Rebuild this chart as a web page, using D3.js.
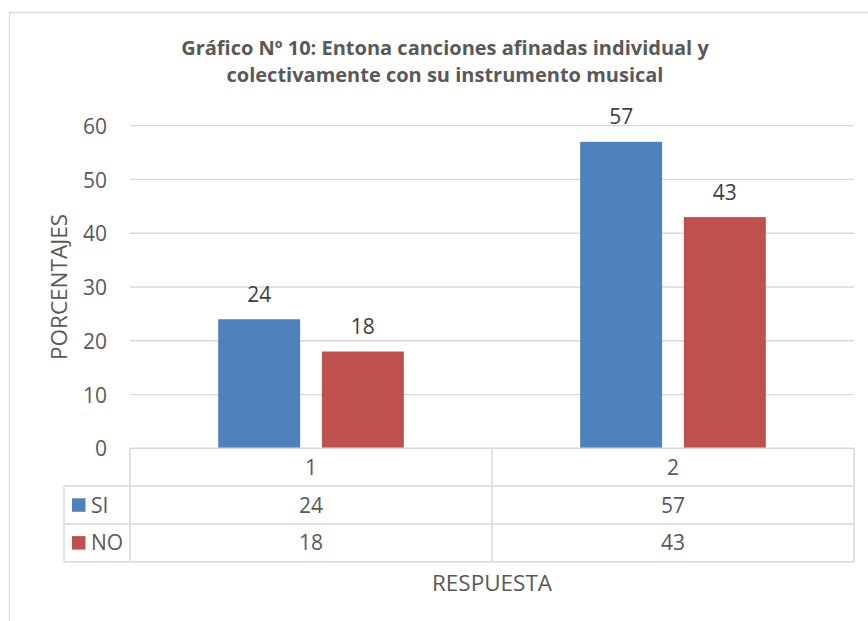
<!DOCTYPE html>
<html><head><meta charset="utf-8">
<script src="https://cdn.jsdelivr.net/npm/d3@7"></script>
<style>body{margin:0;background:#fff}svg{display:block}</style>
</head><body>
<script>
const categories = ["1", "2"];
const seriesNames = ["SI", "NO"];
const siValues = [24, 57];
const noValues = [18, 43];
const yTicks = [0, 10, 20, 30, 40, 50, 60];
const titleLines = ["Gráfico Nº 10: Entona canciones afinadas individual y", "colectivamente con su instrumento musical"];
const yTitle = "PORCENTAJES";
const xTitle = "RESPUESTA";

(function () {
const colors = {SI: "#4F81BD", NO: "#C0504D"};
const values = {SI: siValues, NO: noValues};
const W = 868, H = 621;
const font = "'Open Sans', Lato, sans-serif";
const grid = "#d9d9d9";

const svg = d3.select("body").append("svg").attr("width", W).attr("height", H);

// frame
svg.append("path").attr("d", "M9.5,621 V12.5 H868").attr("fill", "none").attr("stroke", grid).attr("stroke-width", 1.3);

const pLeft = 130, pRight = 854, pTop = 125.7, pBottom = 448.3;
const x = d3.scaleBand().domain(categories).range([pLeft, pRight]).padding(0);
const xs = d3.scaleBand().domain(seriesNames).range([0, x.bandwidth()]).paddingInner(0.21).paddingOuter(0.85);
const y = d3.scaleLinear().domain([0, 60]).range([pBottom, pTop]);

// title
svg.append("g").selectAll("text").data(titleLines).join("text")
  .attr("x", 445).attr("y", (d, i) => 55 + i * 27)
  .attr("text-anchor", "middle").attr("font-family", font).attr("font-weight", "bold")
  .attr("font-size", 20).attr("fill", "#595959").text(d => d);

// gridlines
svg.append("g").selectAll("line").data(yTicks.filter(t => t > 0)).join("line")
  .attr("x1", pLeft).attr("x2", pRight).attr("y1", d => y(d)).attr("y2", d => y(d))
  .attr("stroke", grid).attr("stroke-width", 1.3);

// y axis labels
const yAxis = d3.axisLeft(y).tickValues(yTicks).tickSize(0).tickPadding(0);
const ya = svg.append("g").attr("transform", `translate(${pLeft - 23},0)`).call(yAxis);
ya.select(".domain").remove();
ya.selectAll("text").attr("font-family", font).attr("font-size", 21).attr("fill", "#595959").attr("dy", "0.36em");

// y title
svg.append("text").attr("transform", `translate(67,287) rotate(-90)`)
  .attr("text-anchor", "middle").attr("font-family", font).attr("font-size", 22.5)
  .attr("fill", "#595959").text(yTitle);

// bars
const gBars = svg.append("g");
seriesNames.forEach(s => {
  gBars.selectAll(".b" + s).data(categories).join("rect")
    .attr("x", d => x(d) + xs(s)).attr("width", xs.bandwidth())
    .attr("y", (d, i) => y(values[s][i])).attr("height", (d, i) => y(0) - y(values[s][i]))
    .attr("fill", colors[s]);
  gBars.selectAll(".l" + s).data(categories).join("text")
    .attr("x", d => x(d) + xs(s) + xs.bandwidth() / 2)
    .attr("y", (d, i) => y(values[s][i]) - 17.5)
    .attr("text-anchor", "middle").attr("font-family", font).attr("font-size", 21)
    .attr("fill", "#404040").text((d, i) => values[s][i]);
});

// data table
const rowH = 37.8;
const r0 = pBottom, r1 = r0 + rowH, r2 = r1 + rowH, r3 = r2 + rowH;
const legLeft = 64;
const tg = svg.append("g").attr("stroke", grid).attr("stroke-width", 1.5);
tg.append("line").attr("x1", pLeft).attr("x2", pRight).attr("y1", r0).attr("y2", r0);
[r1, r2, r3].forEach(r => tg.append("line").attr("x1", legLeft).attr("x2", pRight).attr("y1", r).attr("y2", r));
[pLeft, ...categories.slice(1).map(c => x(c)), pRight].forEach(v => tg.append("line").attr("x1", v).attr("x2", v).attr("y1", r0).attr("y2", r3));
tg.append("line").attr("x1", legLeft).attr("x2", legLeft).attr("y1", r1).attr("y2", r3);

const ttext = (xx, yy, t, anchor) => svg.append("text").attr("x", xx).attr("y", yy)
  .attr("text-anchor", anchor || "middle").attr("dy", "0.36em")
  .attr("font-family", font).attr("font-size", 21).attr("fill", "#595959").text(t);

categories.forEach(c => ttext(x(c) + x.bandwidth() / 2, (r0 + r1) / 2, c));
seriesNames.forEach((s, si) => {
  const cy = [r1, r2][si] + rowH / 2;
  svg.append("rect").attr("x", 72).attr("y", cy - 6.7).attr("width", 13.5).attr("height", 13.5).attr("fill", colors[s]);
  ttext(91, cy, s, "start");
  categories.forEach((c, i) => ttext(x(c) + x.bandwidth() / 2, cy, values[s][i]));
});

// x title
svg.append("text").attr("x", (pLeft + pRight) / 2).attr("y", 583).attr("dy", "0.36em")
  .attr("text-anchor", "middle").attr("font-family", font).attr("font-size", 22.5)
  .attr("fill", "#595959").text(xTitle);
})();
</script>
</body></html>
